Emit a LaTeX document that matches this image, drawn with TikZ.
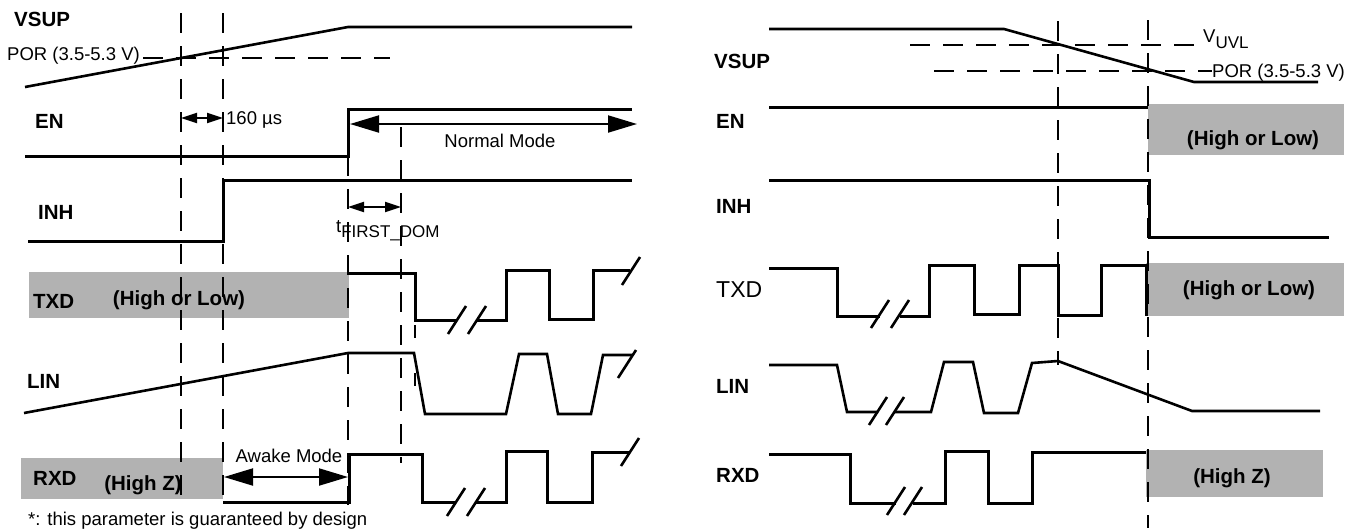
\documentclass[tikz,border=0pt]{standalone}
\usepackage{fontspec}
\setmainfont{Liberation Sans}
\usepackage{tikz}
\usetikzlibrary{arrows.meta}
\definecolor{boxgray}{gray}{0.70}

\begin{document}
\begin{tikzpicture}[x=1pt, y=-1pt,
sig/.style={line width=3pt}, ramp/.style={line width=2.6pt},
guide/.style={line width=2pt, dash pattern=on 20pt off 13pt},
greybox/.style={fill=boxgray, draw=none},
lbl/.style={anchor=base west, inner sep=0pt, font=\fontsize{20.5}{24}\selectfont\bfseries},
boxtxt/.style={anchor=base, inner sep=0pt, font=\fontsize{20.5}{24}\selectfont\bfseries},
txt/.style={anchor=base west, inner sep=0pt, font=\fontsize{18.5}{22}\selectfont},
dimarrow/.style={line width=2pt, {Triangle[length=16pt,width=10pt]}-{Triangle[length=16pt,width=10pt]}},
bigarrow/.style={line width=2pt, {Triangle[length=29pt,width=17pt]}-{Triangle[length=29pt,width=17pt]}}]
  \useasboundingbox (0,0) rectangle (1352,531);
  % grey states
  \fill[greybox] (29,272) rectangle (349,318);
  \fill[greybox] (21,458) rectangle (223,499);
  \fill[greybox] (1148,104) rectangle (1344,155);
  \fill[greybox] (1146,263) rectangle (1344,316);
  \fill[greybox] (1146,450) rectangle (1323,497);
  % signal names, left
  \node[lbl] (vsupL) at (14,26) {VSUP};
  \node[txt] (porL) at (7,60) {POR (3.5-5.3 V)};
  \node[lbl] (enL) at (35,128) {EN};
  \node[lbl] (inhL) at (38,219) {INH};
  \node[lbl] (txdL) at (33,308) {TXD};
  \node[lbl] (linL) at (27,388) {LIN};
  \node[lbl] (rxdL) at (33,485) {RXD};
  \node[boxtxt] (holL) at (179,305) {(High or Low)};
  \node[boxtxt] (hzL) at (143,490) {(High Z)};
  \node[txt] (t160) at (226,124) {160 µs};
  \node[txt, anchor=base] (normal) at (500,147) {Normal Mode};
  \node[txt, anchor=base] (awake) at (289,462) {Awake Mode};
  \node[txt] (tfirst) at (336,232) {t\raisebox{-5pt}{\fontsize{17}{17}\selectfont FIRST\_DOM}};
  \node[txt] (note) at (28,525) {*: this parameter is guaranteed by design};
  % signal names, right
  \node[lbl] (vsupR) at (714,68) {VSUP};
  \node[txt] (vuvl) at (1203,42) {V\raisebox{-6pt}{\fontsize{17}{17}\selectfont UVL}};
  \node[txt] (porR) at (1212,77) {POR (3.5-5.3 V)};
  \node[lbl] (enR) at (716,128) {EN};
  \node[lbl] (inhR) at (716,213) {INH};
  \node[txt, font=\fontsize{23}{26}\selectfont] (txdR) at (716,297) {TXD};
  \node[lbl] (linR) at (716,393) {LIN};
  \node[lbl] (rxdR) at (716,482) {RXD};
  \node[boxtxt] (holR1) at (1253,145) {(High or Low)};
  \node[boxtxt] (holR2) at (1249,295) {(High or Low)};
  \node[boxtxt] (hzR) at (1232,483) {(High Z)};
  % markers
\foreach \x/\ya/\yb in {181/13/505, 223/13/505, 348/156/505, 401/127/463, 1058/21/365, 1148/20/528}
    \draw[guide] (\x,\ya) -- (\x,\yb);
  \draw[line width=1.5pt, dash pattern=on 13pt off 35pt] (415,325) -- (415,386);
\foreach \xa/\xb/\y in {143/390/58, 910/1194/45, 934/1212/71}
    \draw[guide] (\xa,\y) -- (\xb,\y);
  % timing arrows
  \coordinate (p1) at (181,118); \coordinate (p2) at (223,118);
  \coordinate (n1) at (350,124); \coordinate (n2) at (637,124);
  \coordinate (f1) at (348,207); \coordinate (f2) at (401,207);
  \coordinate (w1) at (224,477); \coordinate (w2) at (348,477);
  \draw[dimarrow] (p1) -- (p2);
  \draw[dimarrow] (f1) -- (f2);
  \draw[bigarrow] (n1) -- (n2);
  \draw[bigarrow] (w1) -- (w2);
  % waveforms, left
  \draw[ramp] (25,87) -- (348,27) -- (632,27);
  \draw[sig] (25,156) -- (348,156) -- (348,109) -- (632,109);
  \draw[sig] (28,241) -- (223,241) -- (223,180) -- (632,180);
  \draw[sig] (349,273) -- (415,273) -- (415,320) -- (457,320);
  \draw[sig] (477,320) -- (506,320) -- (506,270) -- (549,270) -- (549,319) -- (593,319) -- (593,270) -- (630,270);
  \draw[ramp] (24,413) -- (348,353) -- (414,353) -- (425,414) -- (506,414) -- (519,354) -- (547,354) -- (558,414) -- (591,414) -- (603,355) -- (632,355);
  \draw[sig] (223,502) -- (349,502) -- (349,454) -- (422,454) -- (422,502) -- (456,502);
  \draw[sig] (476,502) -- (506,502) -- (506,451) -- (547,451) -- (547,502) -- (592,502) -- (592,452) -- (630,452);
  % waveforms, right
  \draw[ramp] (769,29) -- (1004,29) -- (1194,82) -- (1318,82);
  \draw[sig] (769,107) -- (1148,107);
  \draw[sig] (769,180) -- (1149,180) -- (1149,237) -- (1329,237);
  \draw[sig] (769,268) -- (837,268) -- (837,316) -- (880,316);
  \draw[sig] (900,316) -- (929,316) -- (929,265) -- (974,265) -- (974,314) -- (1019,314) -- (1019,265) -- (1058,265) -- (1058,315) -- (1101,315) -- (1101,265) -- (1146,265) -- (1146,316);
  \draw[ramp] (769,365) -- (837,365) -- (847,412) -- (878,412);
  \draw[ramp] (895,412) -- (931,412) -- (944,362) -- (973,362) -- (984,413) -- (1018,413) -- (1032,363) -- (1058,361) -- (1192,411) -- (1320,411);
  \draw[sig] (769,454) -- (850,454) -- (850,503) -- (896,503);
  \draw[sig] (913,503) -- (945,503) -- (945,451) -- (988,451) -- (988,503) -- (1032,503) -- (1032,452) -- (1146,452);
  % breaks
\foreach \x/\y in {457/320, 477/320, 456/502, 476/502, 631/271, 627/364, 630/452, 880/314, 900/314, 878/411, 895/411, 896/501, 913/501}
    \draw[ramp] (\x-9,\y+14) -- (\x+9,\y-14);
\end{tikzpicture}
\end{document}
